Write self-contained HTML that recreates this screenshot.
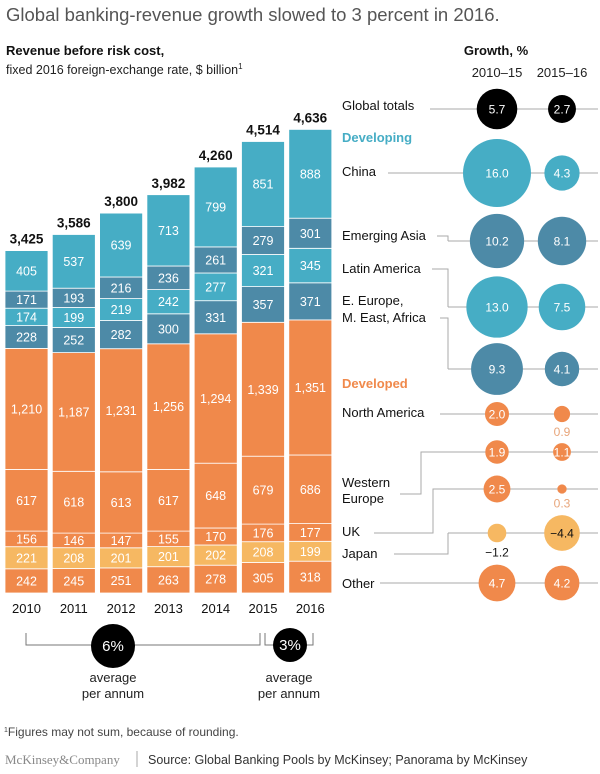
<!DOCTYPE html>
<html><head><meta charset="utf-8"><style>
body{margin:0;background:#fff;font-family:"Liberation Sans",Arial,sans-serif;}
svg text{font-family:"Liberation Sans",Arial,sans-serif;}
</style></head><body>
<svg id="c" width="600" height="769" viewBox="0 0 600 769">
<text x="6" y="21" font-size="18.5" fill="#555">Global banking-revenue growth slowed to 3 percent in 2016.</text>
<text x="6" y="55" font-size="13" font-weight="bold" fill="#111">Revenue before risk cost,</text>
<text x="6" y="74" font-size="12.5" fill="#222">fixed 2016 foreign-exchange rate, $ billion<tspan font-size="8" dy="-5">1</tspan></text>
<text x="496" y="55" font-size="13" font-weight="bold" fill="#111" text-anchor="middle">Growth, %</text>
<text x="497" y="77" font-size="13" fill="#222" text-anchor="middle">2010–15</text>
<text x="562" y="77" font-size="13" fill="#222" text-anchor="middle">2015–16</text>
<g id="bars"></g>
<g id="bubbles"></g>
<g stroke="#777" stroke-width="1" fill="none">
<path d="M26,633 V645 H260 V633"/><path d="M265,633 V645 H313 V633"/>
</g>
<circle cx="113" cy="646" r="22" fill="#000"/>
<text x="113" y="651" font-size="15" fill="#fff" text-anchor="middle">6%</text>
<text x="113" y="682" font-size="13" fill="#222" text-anchor="middle">average</text>
<text x="113" y="698" font-size="13" fill="#222" text-anchor="middle">per annum</text>
<circle cx="290" cy="645" r="17" fill="#000"/>
<text x="290" y="650" font-size="15" fill="#fff" text-anchor="middle">3%</text>
<text x="289" y="682" font-size="13" fill="#222" text-anchor="middle">average</text>
<text x="289" y="698" font-size="13" fill="#222" text-anchor="middle">per annum</text>
<text x="4" y="736" font-size="12" fill="#444"><tspan font-size="7" dy="-4">1</tspan><tspan dy="4">Figures may not sum, because of rounding.</tspan></text>
<text x="5" y="764" font-size="13" fill="#888" style="font-family:'Liberation Serif',serif">McKinsey&amp;Company</text>
<line x1="137" y1="751" x2="137" y2="767" stroke="#aaa"/>
<text x="148" y="764" font-size="12.5" fill="#333">Source: Global Banking Pools by McKinsey; Panorama by McKinsey</text>
</svg>
<script>
const years=["2010","2011","2012","2013","2014","2015","2016"];
const totals=[3425,3586,3800,3982,4260,4514,4636];
const other=[242,245,251,263,278,305,318];
const japan=[221,208,201,201,202,208,199];
const uk=[156,146,147,155,170,176,177];
const westEurope=[617,618,613,617,648,679,686];
const northAmerica=[1210,1187,1231,1256,1294,1339,1351];
const eemea=[228,252,282,300,331,357,371];
const latAm=[174,199,219,242,277,321,345];
const emAsia=[171,193,216,236,261,279,301];
const china=[405,537,639,713,799,851,888];
const bubbleRegions=["Global totals","China","Emerging Asia","Latin America","E. Europe, M. East, Africa","North America","Western Europe","UK","Japan","Other"];
const growth1015=[5.7,16.0,10.2,13.0,9.3,2.0,1.9,2.5,-1.2,4.7];
const growth1516=[2.7,4.3,8.1,7.5,4.1,0.9,1.1,0.3,-4.4,4.2];

const NS="http://www.w3.org/2000/svg";
function mk(tag,attrs,parent){const e=document.createElementNS(NS,tag);for(const k in attrs)e.setAttribute(k,attrs[k]);parent.appendChild(e);return e;}
const base=593, sc=0.1;
const y=v=>base-v*sc;
const x=i=>5+i*47.3;
const bw=43;
const series=[
 {n:"other",d:other,c:"#f0894b",t:"#fff"},
 {n:"japan",d:japan,c:"#f6b862",t:"#fff"},
 {n:"uk",d:uk,c:"#f0894b",t:"#fff"},
 {n:"western-europe",d:westEurope,c:"#f0894b",t:"#fff"},
 {n:"north-america",d:northAmerica,c:"#f0894b",t:"#fff"},
 {n:"eemea",d:eemea,c:"#4d8aa7",t:"#fff"},
 {n:"latin-america",d:latAm,c:"#46adc5",t:"#fff"},
 {n:"emerging-asia",d:emAsia,c:"#4d8aa7",t:"#fff"},
 {n:"china",d:china,c:"#46adc5",t:"#fff"}];
const bars=document.getElementById("bars");
years.forEach((yr,i)=>{
 let cum=0;
 series.forEach(s=>{
  const v=s.d[i];
  const r=mk("rect",{x:x(i),y:y(cum+v),width:bw,height:v*sc,fill:s.c,stroke:"#fff","stroke-width":0.8},bars);
  
  
  const t=mk("text",{x:x(i)+bw/2,y:y(cum+v/2)+4.5,"font-size":12.5,fill:s.t,"text-anchor":"middle"},bars);
  
  
  t.textContent=v.toLocaleString("en-US");
  cum+=v;
 });
 const tt=mk("text",{x:x(i)+bw/2,y:y(totals[i])-7,"font-size":13.5,"font-weight":"bold",fill:"#111","text-anchor":"middle"},bars);
 
 
 tt.textContent=totals[i].toLocaleString("en-US");
 const yl=mk("text",{x:x(i)+bw/2,y:613,"font-size":13,fill:"#111","text-anchor":"middle"},bars);
 
 
 yl.textContent=yr;
});

const bub=document.getElementById("bubbles");
const rowY=[109,173,241,307,369,414,452,489,533,583];
const rowCol=["#000","#46adc5","#4d8aa7","#46adc5","#4d8aa7","#f0894b","#f0894b","#f0894b","#f6b862","#f0894b"];
const c1=497,c2=562,k=8.5;
rowY.forEach(ry=>{const l=mk("line",{x1:448,y1:ry,x2:598,y2:ry,stroke:"#aaa","stroke-width":1},bub);});
const conn=[
 [430,106,null],[388,171,null],[437,236,448],[432,269,448],[440,318,448],[440,412,null],[400,494,421],[374,533,433],[394,554,448],[380,583,null]];
conn.forEach((c,i)=>{
 const ry=rowY[i];
 let d=c[2]===null?`M${c[0]},${ry} H448`:`M${c[0]},${c[1]} H${c[2]} V${ry} H448`;
 const p=mk("path",{d:d,stroke:"#aaa",fill:"none","stroke-width":1},bub);
 
 
});
const labels=[["Global totals",110],["China",176],["Emerging Asia",240],["Latin America",273],["E. Europe,",305],["M. East, Africa",322],["North America",417],["Western",487],["Europe",503],["UK",536],["Japan",558],["Other",588]];
labels.forEach(l=>{const t=mk("text",{x:342,y:l[1],"font-size":13,fill:"#111"},bub);t.textContent=l[0];});
const h1=mk("text",{x:342,y:142,"font-size":13,"font-weight":"bold",fill:"#46adc5"},bub);


h1.textContent="Developing";
const h2=mk("text",{x:342,y:388,"font-size":13,"font-weight":"bold",fill:"#f0894b"},bub);


h2.textContent="Developed";
function drawB(cx,vals,tag){
 vals.forEach((v,i)=>{
  const r=k*Math.sqrt(Math.abs(v));
  const neg=v<0;
  const col=neg?"#f6b862":rowCol[i];
  const c=mk("circle",{cx:cx,cy:rowY[i],r:r,fill:col},bub);
  
  
  const txt=v.toFixed(1).replace("-","−");
  let ty=rowY[i]+4.5, fill=neg?"#111":"#fff";
  if(Math.abs(v)<1.0||(neg&&r<11)){ty=rowY[i]+r+14;fill=neg?"#111":"#e8a57a";}
  const t=mk("text",{x:cx,y:ty,"font-size":12,fill:fill,"text-anchor":"middle"},bub);
  
  
  t.textContent=txt;
 });
}
drawB(c1,growth1015,"2010-15");
drawB(c2,growth1516,"2015-16");
</script>
</body></html>
